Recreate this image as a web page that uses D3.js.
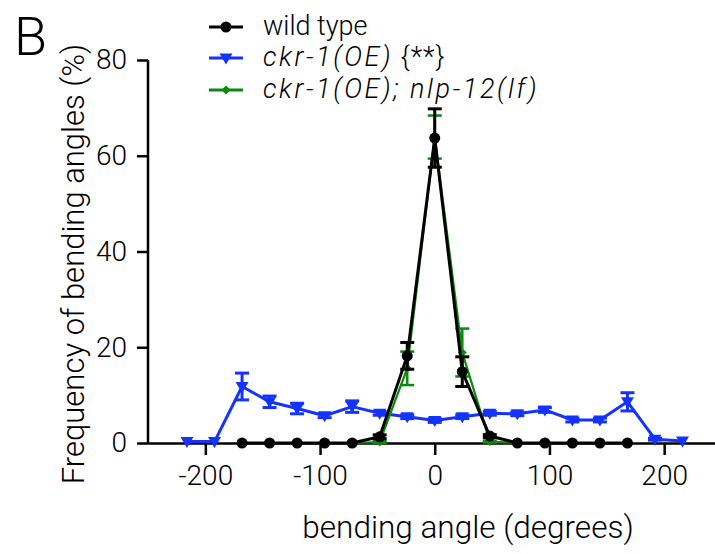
<!DOCTYPE html>
<html>
<head>
<meta charset="utf-8">
<script src="https://cdn.jsdelivr.net/npm/d3@7"></script>
<style>
  body { margin: 0; background: #fff; }
  svg text { font-family: "Helvetica Neue", Roboto, "Liberation Sans", sans-serif; font-weight: 300; fill: #000; }
</style>
</head>
<body>
<div class="container"></div>
<script>
// bin centres (degrees)
var angles = [-216, -192, -168, -144, -120, -96, -72, -48, -24, 0, 24, 48, 72, 96, 120, 144, 168, 192, 216];

// wild type (no bins beyond +-168)
var wtMean = [null, null, 0, 0, 0, 0, 0, 1.3, 18.2, 63.7, 14.9, 1.45, 0, 0, 0, 0, 0, null, null];
var wtErr  = [null, null, 0, 0, 0, 0, 0, 0.4, 2.8, 6.1, 3.1, 0.3, 0, 0, 0, 0, 0, null, null];

// ckr-1(OE)
var oeMean = [0.3, 0.3, 11.8, 8.6, 7.2, 5.7, 7.6, 6.2, 5.5, 4.7, 5.5, 6.2, 6.1, 6.9, 4.8, 4.8, 8.6, 0.8, 0.4];
var oeErr  = [0, 0, 2.8, 1.2, 1.1, 0.4, 1.2, 0.4, 0.4, 0.4, 0.4, 0.4, 0.4, 0.5, 0.4, 0.4, 1.9, 0.2, 0];

// ckr-1(OE); nlp-12(lf)
var lfMean = [null, null, 0, 0, 0, 0, 0, 0.2, 15.6, 63.9, 18.9, 0.3, 0, 0, 0, 0, 0, null, null];
var lfErr  = [null, null, 0, 0, 0, 0, 0, 0.2, 3.5, 4.5, 5.0, 0.2, 0, 0, 0, 0, 0, null, null];

var xTicks = [-200, -100, 0, 100, 200];
var yTicks = [0, 20, 40, 60, 80];

var width = 715,
  height = 554;

var svg = d3.select(".container").append("svg")
    .attr("width", width)
    .attr("height", height);

var x = d3.scaleLinear().domain([-250, 250]).range([148, 721.5]);
var y = d3.scaleLinear().domain([0, 80]).range([443, 60]);

function series(means, errs) {
  return angles.map(function(a, i) {
    return { a: a, v: means[i], e: errs[i] };
  }).filter(function(d) { return d.v !== null; });
}

var sets = [
  { name: "oe", color: "#1433ff", lw: 3, data: series(oeMean, oeErr) },
  { name: "lf", color: "#0a8a0a", lw: 2.2, data: series(lfMean, lfErr) },
  { name: "wt", color: "#000000", lw: 3, data: series(wtMean, wtErr) }
];

// ---------- AXES ----------
var xAxis = svg.append("g")
    .attr("transform", "translate(0," + y(0) + ")")
    .call(d3.axisBottom(x).tickValues(xTicks).tickSize(12).tickPadding(10).tickSizeOuter(0)
      .tickFormat(function(d) { return String(d); }));   // plain hyphen, like the original

var yAxis = svg.append("g")
    .attr("transform", "translate(" + x(-250) + ",0)")
    .call(d3.axisLeft(y).tickValues(yTicks).tickSize(11).tickPadding(10).tickSizeOuter(0));

[xAxis, yAxis].forEach(function(g) {
  g.select(".domain").attr("stroke", "#000").attr("stroke-width", 2.5);
  g.selectAll(".tick line").attr("stroke", "#000").attr("stroke-width", 2.5);
  g.selectAll(".tick text").attr("font-size", 28).attr("font-family", null);
});
yAxis.select(".domain").attr("d", "M0," + y(80) + "V" + (y(0) + 1.25));

// ---------- LINES ----------
var line = d3.line()
    .x(function(d) { return x(d.a); })
    .y(function(d) { return y(d.v); });

function marker(g, name, color) {
  if (name == "wt") {
    g.append("circle").attr("r", 5.5).attr("fill", color);
  } else if (name == "oe") {
    g.append("path").attr("d", "M-6.5,-4.5L6.5,-4.5L0,6.5Z").attr("fill", color);
  } else {
    g.append("path").attr("d", "M0,-4.5L4.5,0L0,4.5L-4.5,0Z").attr("fill", color);
  }
}

sets.forEach(function(s) {
  var g = svg.append("g").attr("class", "series " + s.name);

  var bars = g.selectAll(".err")
    .data(s.data.filter(function(d) { return d.e > 0; }))
    .enter().append("g")
    .attr("class", "err")
    .attr("stroke", s.color)
    .attr("stroke-width", s.name == "lf" ? 2.5 : 3);

  bars.append("line")
    .attr("x1", function(d) { return x(d.a); })
    .attr("x2", function(d) { return x(d.a); })
    .attr("y1", function(d) { return y(d.v - d.e); })
    .attr("y2", function(d) { return y(d.v + d.e); });

  [-1, 1].forEach(function(sign) {
    bars.append("line")
      .attr("x1", function(d) { return x(d.a) - 7; })
      .attr("x2", function(d) { return x(d.a) + 7; })
      .attr("y1", function(d) { return y(d.v + sign * d.e); })
      .attr("y2", function(d) { return y(d.v + sign * d.e); });
  });

  g.append("path")
    .datum(s.data)
    .attr("fill", "none")
    .attr("stroke", s.color)
    .attr("stroke-width", s.lw)
    .attr("stroke-linejoin", "round")
    .attr("d", line);

  g.selectAll(".pt")
    .data(s.data)
    .enter().append("g")
    .attr("class", "pt")
    .attr("transform", function(d) { return "translate(" + x(d.a) + "," + y(d.v) + ")"; })
    .each(function() { marker(d3.select(this), s.name, s.color); });
});

// ---------- LEGEND ----------
var legendItems = [
  { name: "wt", color: "#000000", y: 27 },
  { name: "oe", color: "#1433ff", y: 58 },
  { name: "lf", color: "#0a8a0a", y: 90 }
];

var legend = svg.append("g").attr("class", "legend");

legendItems.forEach(function(l) {
  var g = legend.append("g");
  g.append("line")
    .attr("x1", 209).attr("x2", 243)
    .attr("y1", l.y).attr("y2", l.y)
    .attr("stroke", l.color)
    .attr("stroke-width", 3);
  var m = g.append("g").attr("transform", "translate(226," + l.y + ")");
  marker(m, l.name, l.color);
});

var t1 = legend.append("text").attr("x", 263).attr("y", 27 + 8).attr("font-size", 27);
t1.append("tspan").text("wild type");

// the original's italic face is a lot wider, so stretch these a bit
var t2 = legend.append("text").attr("x", 263).attr("y", 58 + 8).attr("font-size", 27);
t2.append("tspan").attr("font-style", "italic").attr("letter-spacing", 2.6).text("ckr-1(OE)");
t2.append("tspan").attr("letter-spacing", 1).text(" {**}");

var t3 = legend.append("text").attr("x", 263).attr("y", 90 + 8).attr("font-size", 27);
t3.append("tspan").attr("font-style", "italic").attr("letter-spacing", 2.6).text("ckr-1(OE); nlp-12(lf)");

// ---------- LABELS ----------
svg.append("text")
    .attr("x", 14)
    .attr("y", 55)
    .attr("font-size", 54)
    .text("B");

svg.append("text")
    .attr("transform", "translate(84,264) rotate(-90)")
    .attr("text-anchor", "middle")
    .attr("font-size", 31)
    .text("Frequency of bending angles (%)");

svg.append("text")
    .attr("x", 468)
    .attr("y", 538)
    .attr("text-anchor", "middle")
    .attr("font-size", 31.5)
    .text("bending angle (degrees)");
</script>
</body>
</html>
